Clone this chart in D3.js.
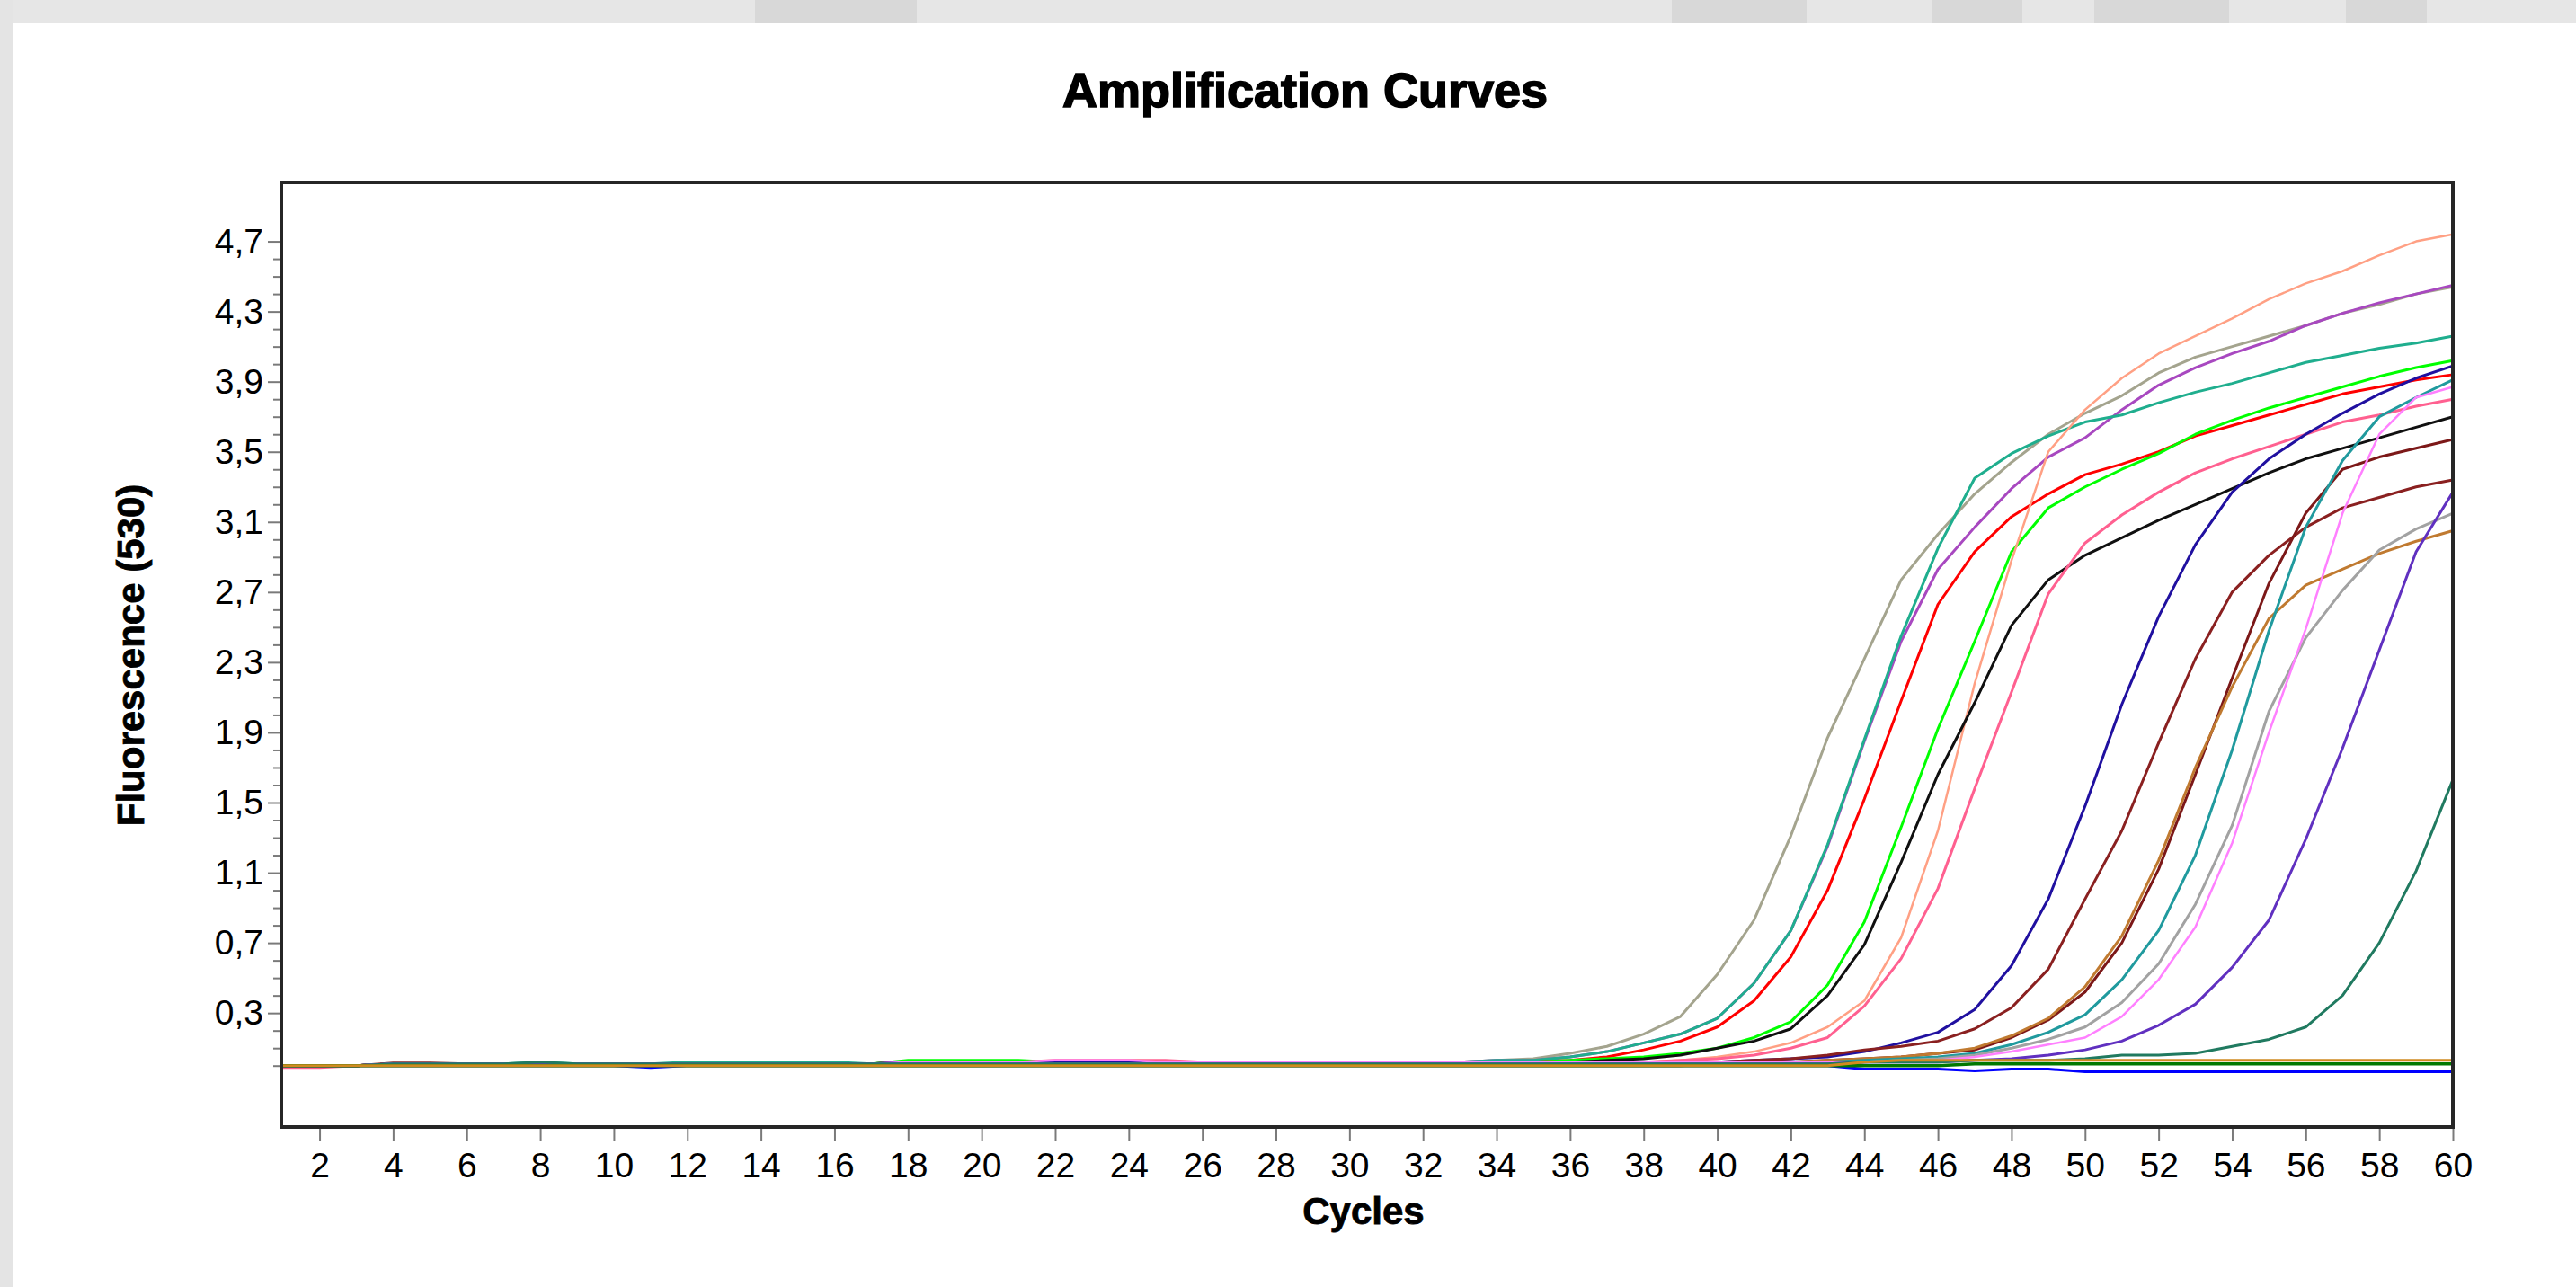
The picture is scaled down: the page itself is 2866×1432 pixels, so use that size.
<!DOCTYPE html>
<html><head><meta charset="utf-8">
<script src="https://cdn.jsdelivr.net/npm/d3@7"></script>
<style>
html,body{margin:0;padding:0;background:#fff;overflow:hidden;}
svg{display:block;}
</style></head><body>
<svg id="chart" width="2866" height="1432"></svg>
<script>
// ---------------- DATA ----------------
const cycles = [1,2,3,4,5,6,7,8,9,10,11,12,13,14,15,16,17,18,19,20,21,22,23,24,25,26,27,28,29,30,31,32,33,34,35,36,37,38,39,40,41,42,43,44,45,46,47,48,49,50,51,52,53,54,55,56,57,58,59,60];

const xTickLabels = [2,4,6,8,10,12,14,16,18,20,22,24,26,28,30,32,34,36,38,40,42,44,46,48,50,52,54,56,58,60];
const yTickLabels = [0.3,0.7,1.1,1.5,1.9,2.3,2.7,3.1,3.5,3.9,4.3,4.7];
const yMinorTicks = [0.0,0.1,0.2,0.4,0.5,0.6,0.8,0.9,1.0,1.2,1.3,1.4,1.6,1.7,1.8,2.0,2.1,2.2,2.4,2.5,2.6,2.8,2.9,3.0,3.2,3.3,3.4,3.6,3.7,3.8,4.0,4.1,4.2,4.4,4.5,4.6];

// series values, cycles 1..60
const sKhaki   = [0,0,0,0.01,0.01,0.01,0.01,0.01,0.01,0.01,0.01,0.01,0.01,0.01,0.01,0.01,0.01,0.02,0.02,0.02,0.02,0.02,0.02,0.02,0.02,0.02,0.02,0.02,0.02,0.02,0.02,0.02,0.02,0.03,0.04,0.07,0.11,0.18,0.28,0.52,0.83,1.31,1.87,2.32,2.77,3.03,3.26,3.44,3.60,3.72,3.82,3.95,4.04,4.10,4.16,4.22,4.29,4.34,4.40,4.44];
const sPurple  = [0,0,0,0.01,0.01,0.01,0.01,0.01,0.01,0.01,0.01,0.01,0.01,0.01,0.01,0.01,0.01,0.02,0.02,0.02,0.02,0.02,0.02,0.02,0.02,0.02,0.02,0.02,0.02,0.02,0.02,0.02,0.02,0.03,0.03,0.05,0.08,0.13,0.18,0.27,0.47,0.77,1.25,1.85,2.42,2.83,3.07,3.29,3.47,3.58,3.74,3.88,3.98,4.06,4.13,4.22,4.29,4.35,4.40,4.45];
const sJungle  = [0,0,0,0.01,0.01,0.01,0.01,0.02,0.01,0.01,0.01,0.02,0.02,0.02,0.02,0.02,0.01,0.02,0.02,0.02,0.02,0.02,0.02,0.02,0.02,0.02,0.02,0.02,0.02,0.02,0.02,0.02,0.02,0.03,0.03,0.05,0.08,0.13,0.18,0.27,0.47,0.77,1.26,1.86,2.45,2.95,3.35,3.49,3.59,3.67,3.71,3.78,3.84,3.89,3.95,4.01,4.05,4.09,4.12,4.16];
const sRed     = [0,0,0,0.01,0.01,0.01,0.01,0.01,0.01,0.01,0.01,0.01,0.01,0.01,0.01,0.01,0.01,0.02,0.02,0.02,0.02,0.02,0.02,0.02,0.02,0.02,0.02,0.02,0.02,0.02,0.02,0.02,0.02,0.02,0.02,0.03,0.05,0.09,0.14,0.22,0.37,0.62,1.00,1.52,2.08,2.63,2.93,3.13,3.26,3.37,3.43,3.50,3.59,3.65,3.71,3.77,3.83,3.87,3.91,3.94];
const sLime    = [0,0,0,0.01,0.01,0.01,0.01,0.01,0.01,0.01,0.01,0.01,0.01,0.01,0.01,0.01,0.01,0.03,0.03,0.03,0.03,0.02,0.02,0.02,0.02,0.02,0.02,0.02,0.02,0.02,0.02,0.02,0.02,0.02,0.02,0.03,0.04,0.05,0.07,0.10,0.16,0.25,0.46,0.82,1.36,1.92,2.42,2.93,3.18,3.30,3.40,3.49,3.60,3.68,3.75,3.81,3.87,3.93,3.98,4.02];
const sSalmon  = [0,0,0,0.01,0.01,0.01,0.01,0.01,0.01,0.01,0.01,0.01,0.01,0.01,0.01,0.01,0.01,0.02,0.02,0.02,0.02,0.02,0.02,0.02,0.02,0.02,0.02,0.02,0.02,0.02,0.02,0.02,0.02,0.02,0.02,0.02,0.02,0.02,0.03,0.05,0.08,0.13,0.22,0.37,0.73,1.34,2.18,2.88,3.50,3.74,3.92,4.06,4.16,4.26,4.37,4.46,4.53,4.62,4.70,4.74];
const sBlack   = [0,0,0,0.01,0.01,0.01,0.01,0.01,0.01,0.01,0.01,0.01,0.01,0.01,0.01,0.01,0.01,0.02,0.02,0.02,0.02,0.02,0.02,0.02,0.02,0.02,0.02,0.02,0.02,0.02,0.02,0.02,0.02,0.02,0.02,0.02,0.03,0.04,0.06,0.10,0.14,0.21,0.40,0.69,1.16,1.66,2.07,2.51,2.77,2.91,3.01,3.11,3.20,3.29,3.38,3.46,3.52,3.58,3.64,3.70];
const sHotPink = [-0.01,-0.01,0,0.01,0.01,0.01,0.01,0.01,0.01,0.01,0.01,0.01,0.01,0.01,0.01,0.01,0.01,0.02,0.02,0.02,0.02,0.03,0.03,0.03,0.03,0.02,0.02,0.02,0.02,0.02,0.02,0.02,0.02,0.02,0.02,0.02,0.02,0.02,0.03,0.04,0.06,0.10,0.16,0.34,0.61,1.01,1.58,2.13,2.69,2.98,3.14,3.27,3.38,3.46,3.53,3.60,3.67,3.71,3.76,3.80];
const sNavy    = [0,0,0,0.01,0.01,0.01,0.01,0.01,0.01,0.01,0.01,0.01,0.01,0.01,0.01,0.01,0.01,0.02,0.02,0.02,0.02,0.02,0.02,0.02,0.02,0.02,0.02,0.02,0.02,0.02,0.02,0.02,0.02,0.02,0.02,0.02,0.02,0.02,0.02,0.02,0.03,0.04,0.05,0.08,0.13,0.19,0.32,0.57,0.95,1.48,2.06,2.56,2.97,3.27,3.46,3.60,3.72,3.83,3.92,3.99];
const sMaroonA = [0,0,0,0.015,0.015,0.01,0.01,0.01,0.01,0.01,0.01,0.01,0.01,0.01,0.01,0.01,0.01,0.01,0.01,0.01,0.01,0.01,0.01,0.01,0.01,0.01,0.01,0.01,0.01,0.01,0.01,0.01,0.01,0.01,0.01,0.01,0.01,0.01,0.01,0.02,0.03,0.04,0.06,0.09,0.11,0.14,0.21,0.33,0.55,0.95,1.34,1.84,2.32,2.70,2.91,3.07,3.18,3.24,3.30,3.34];
const sMaroonB = [0,0,0,0.01,0.01,0.01,0.01,0.01,0.01,0.01,0.01,0.01,0.01,0.01,0.01,0.01,0.01,0.01,0.01,0.01,0.01,0.01,0.01,0.01,0.01,0.01,0.01,0.01,0.01,0.01,0.01,0.01,0.01,0.01,0.01,0.01,0.01,0.01,0.01,0.01,0.01,0.02,0.03,0.04,0.05,0.07,0.09,0.16,0.26,0.42,0.70,1.12,1.66,2.21,2.75,3.15,3.40,3.47,3.52,3.57];
const sBrown   = [0,0,0,0,0,0,0,0,0,0,0,0,0,0,0,0,0,0,0,0,0,0,0,0,0,0,0,0,0,0,0,0,0,0,0,0,0,0,0,0.01,0.01,0.02,0.03,0.04,0.05,0.07,0.10,0.17,0.27,0.45,0.74,1.17,1.70,2.16,2.55,2.74,2.83,2.92,2.99,3.05];
const sCyan    = [0,0,0,0.01,0.01,0.01,0.01,0.01,0.01,0.01,0.01,0.01,0.01,0.01,0.01,0.01,0.01,0.01,0.01,0.01,0.01,0.01,0.01,0.01,0.01,0.01,0.01,0.01,0.01,0.01,0.01,0.01,0.01,0.01,0.01,0.01,0.01,0.01,0.01,0.01,0.01,0.02,0.02,0.03,0.04,0.05,0.07,0.12,0.19,0.29,0.49,0.77,1.20,1.80,2.48,3.07,3.45,3.70,3.81,3.91];
const sGray    = [0,0,0,0.01,0.01,0.01,0.01,0.01,0.01,0.01,0.01,0.01,0.01,0.01,0.01,0.01,0.01,0.01,0.01,0.01,0.01,0.01,0.01,0.01,0.01,0.01,0.01,0.01,0.01,0.01,0.01,0.01,0.01,0.01,0.01,0.01,0.01,0.01,0.01,0.01,0.01,0.01,0.02,0.02,0.03,0.04,0.06,0.10,0.15,0.22,0.36,0.58,0.92,1.37,2.02,2.44,2.71,2.94,3.06,3.15];
const sViolet  = [0,0,0,0.01,0.01,0.01,0.01,0.01,0.01,0.01,0.01,0.01,0.01,0.01,0.01,0.01,0.01,0.02,0.02,0.02,0.02,0.03,0.03,0.03,0.02,0.02,0.02,0.02,0.02,0.02,0.02,0.02,0.02,0.02,0.02,0.02,0.02,0.02,0.02,0.02,0.02,0.02,0.02,0.02,0.02,0.03,0.05,0.08,0.12,0.16,0.28,0.49,0.79,1.27,1.90,2.49,3.15,3.60,3.81,3.87];
const sIndigo  = [0,0,0,0.01,0.01,0.01,0.01,0.01,0.01,0.01,0.01,0.01,0.01,0.01,0.01,0.01,0.01,0.01,0.01,0.01,0.01,0.01,0.01,0.01,0.01,0.01,0.01,0.01,0.01,0.01,0.01,0.01,0.01,0.01,0.01,0.01,0.01,0.01,0.01,0.01,0.01,0.01,0.01,0.02,0.02,0.02,0.03,0.04,0.06,0.09,0.14,0.23,0.35,0.56,0.83,1.29,1.81,2.37,2.93,3.27];
const sSeaGreen= [0,0,0,0.01,0.01,0.01,0.01,0.02,0.01,0.01,0.01,0.01,0.01,0.01,0.01,0.01,0.01,0.01,0.01,0.01,0.01,0.01,0.01,0.01,0.01,0.01,0.01,0.01,0.01,0.01,0.01,0.01,0.01,0.01,0.01,0.01,0.01,0.01,0.01,0.01,0.01,0.01,0.01,0.02,0.02,0.02,0.03,0.03,0.03,0.04,0.06,0.06,0.07,0.11,0.15,0.22,0.40,0.70,1.11,1.63];
const sFlatBlue  = [0,0,0,0,0,0,0,0,0,0,-0.01,0,0,0,0,0,0,0,0,0,0,0,0,0,0,0,0,0,0,0,0,0,0,0,0,0,0,0,0,0,0,0,0,-0.02,-0.02,-0.02,-0.03,-0.02,-0.02,-0.035,-0.035,-0.035,-0.035,-0.035,-0.035,-0.035,-0.035,-0.035,-0.035,-0.035];
const sFlatGreen = [0,0,0,0,0,0,0,0,0,0,0,0,0,0,0,0,0,0,0,0,0,0,0,0,0,0,0,0,0,0,0,0,0,0,0,0,0,0,0,0,0,0,0,0,0,0,0.01,0.01,0.01,0.01,0.01,0.01,0.01,0.01,0.01,0.01,0.01,0.01,0.01,0.01];
const sFlatOrange= [0,0,0,0,0,0,0,0,0,0,0,0,0,0,0,0,0,0,0,0,0,0,0,0,0,0,0,0,0,0,0,0,0,0,0,0,0,0,0,0,0,0,0,0.02,0.03,0.03,0.03,0.03,0.03,0.03,0.03,0.03,0.03,0.03,0.03,0.03,0.03,0.03,0.03,0.03];

const seriesValues = [sKhaki, sPurple, sJungle, sRed, sLime, sSalmon, sBlack, sHotPink, sNavy, sMaroonA, sMaroonB, sBrown, sCyan, sGray, sViolet, sIndigo, sSeaGreen, sFlatBlue, sFlatGreen, sFlatOrange];

// styles (kept separate from data)
const seriesColors = ["#a4a48e","#a848c0","#1fae8e","#ff0000","#00ff00","#ffa084","#101010","#ff6090","#2010a0","#8a2020","#7c1818","#c07a30","#209a9e","#a2a2a2","#ff80ff","#6030c0","#207a60","#0000ff","#007800","#d08a20"];
const seriesWidths = [3,3,3,3,3,2.5,3,3,3,3,3,3,3,3,2.5,3,3,3,3.5,3];

// ---------------- LAYOUT ----------------
const W = 2866, H = 1432;
const plot = {left: 313, top: 203, right: 2729, bottom: 1254};
const svg = d3.select("#chart");

// window chrome bands
svg.append("rect").attr("x",0).attr("y",0).attr("width",W).attr("height",H).attr("fill","#ffffff");
const band = svg.append("g");
band.append("rect").attr("x",0).attr("y",0).attr("width",W).attr("height",26).attr("fill","#e6e6e6");
band.append("rect").attr("x",0).attr("y",0).attr("width",14).attr("height",H).attr("fill","#e4e4e4");
const bandPatches = [[840,180],[1860,150],[2150,100],[2330,150],[2610,90]];
bandPatches.forEach(p => band.append("rect").attr("x",p[0]).attr("y",0).attr("width",p[1]).attr("height",26).attr("fill","#d2d2d2").attr("opacity",0.7));

const x = d3.scaleLinear().domain([0.96, 60]).range([plot.left, plot.right]);
const y = d3.scaleLinear().domain([-0.35, 5.036]).range([plot.bottom, plot.top]);

const FONT = "'Liberation Sans', Arial, Helvetica, sans-serif";

// title
svg.append("text").attr("x",1452).attr("y",119).attr("text-anchor","middle")
  .attr("font-family",FONT).attr("font-weight","bold").attr("font-size",54)
  .attr("stroke","#000").attr("stroke-width",1.6)
  .attr("fill","#000").text("Amplification Curves");

// lines
const line = d3.line().x((d,i) => x(cycles[i])).y(d => y(d));
const lg = svg.append("g").attr("fill","none").attr("stroke-linejoin","round");
seriesValues.forEach((vals, k) => {
  lg.append("path").datum(vals).attr("d", line)
    .attr("stroke", seriesColors[k]).attr("stroke-width", seriesWidths[k]);
});

// axes
const xAxis = d3.axisBottom(x).tickValues(xTickLabels).tickSize(15).tickPadding(13).tickFormat(d => String(d));
const gx = svg.append("g").attr("transform",`translate(0,${plot.bottom})`).call(xAxis);
gx.select(".domain").remove();
gx.selectAll(".tick line").attr("stroke","#7a7a7a").attr("stroke-width",2).attr("y1",2);
gx.selectAll(".tick text").attr("font-family",FONT).attr("font-size",39).attr("fill","#000");

const yAxis = d3.axisLeft(y).tickValues(yTickLabels).tickSize(15).tickPadding(5).tickFormat(d => d.toFixed(1).replace(".", ","));
const gy = svg.append("g").attr("transform",`translate(${plot.left},0)`).call(yAxis);
gy.select(".domain").remove();
gy.selectAll(".tick line").attr("stroke","#7a7a7a").attr("stroke-width",2).attr("x1",-2);
gy.selectAll(".tick text").attr("font-family",FONT).attr("font-size",39).attr("fill","#000");

const yMinor = d3.axisLeft(y).tickValues(yMinorTicks).tickSize(9).tickFormat("");
const gym = svg.append("g").attr("transform",`translate(${plot.left},0)`).call(yMinor);
gym.select(".domain").remove();
gym.selectAll(".tick line").attr("stroke","#7a7a7a").attr("stroke-width",2);

// frame
svg.append("rect").attr("x",plot.left).attr("y",plot.top)
  .attr("width",plot.right-plot.left).attr("height",plot.bottom-plot.top)
  .attr("fill","none").attr("stroke","#262626").attr("stroke-width",4);

// axis titles
svg.append("text").attr("x",1517).attr("y",1362).attr("text-anchor","middle")
  .attr("font-family",FONT).attr("font-weight","bold").attr("font-size",42)
  .attr("stroke","#000").attr("stroke-width",0.8)
  .attr("fill","#000").text("Cycles");
svg.append("text").attr("transform","translate(160,729) rotate(-90)").attr("text-anchor","middle")
  .attr("font-family",FONT).attr("font-weight","bold").attr("font-size",42)
  .attr("stroke","#000").attr("stroke-width",0.8)
  .attr("fill","#000").text("Fluorescence (530)");
</script>
</body></html>
